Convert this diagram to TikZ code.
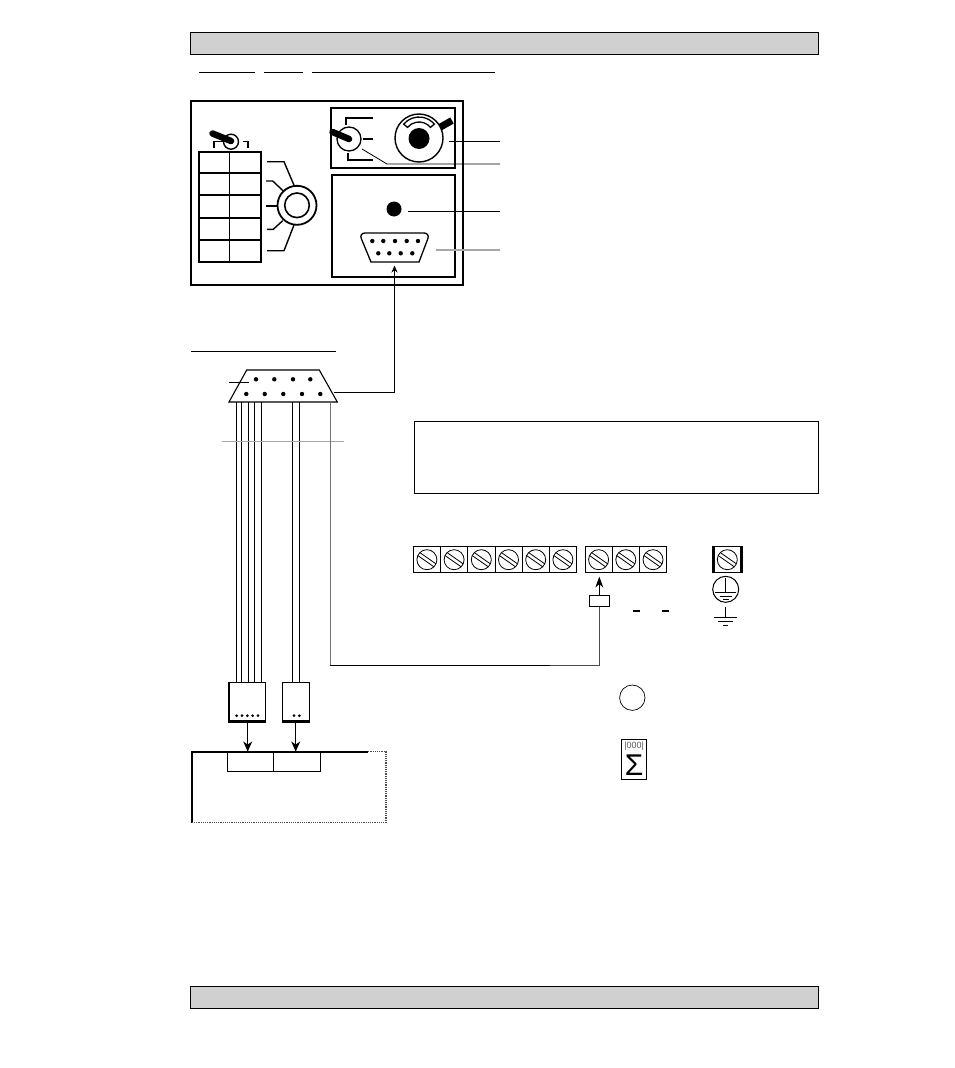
\documentclass[tikz,border=0pt]{standalone}
\usepackage{amsmath, amssymb}
\usepackage{fontspec}
\setmainfont{Liberation Sans}
\usetikzlibrary{arrows.meta}
\definecolor{barfill}{HTML}{D0D0D0}
\definecolor{leadgray}{HTML}{A8A8A8}
\tikzset{
  bar/.style={draw, fill=barfill, line width=1, minimum width=627.5pt, minimum height=22pt, inner sep=0},
  ring/.style={draw, circle, inner sep=0},
  blob/.style={circle, fill=black, inner sep=0},
  pin/.style={blob, minimum size=4.4pt},
  smallpin/.style={blob, minimum size=3pt},
  termcell/.style={draw, line width=0.8, minimum width=27.2pt, minimum height=26pt, inner sep=0},
  wire/.style={line width=1},
  panelline/.style={line width=1.8},
  keybar/.style={line width=6.5, line cap=round},
  screw/.pic={
    \draw [line width=0.8] (0,0) circle (10pt);
    \draw [line width=0.8, rotate=-35] (-9.8pt,1.8pt) -- (9.8pt,1.8pt);
    \draw [line width=0.8, rotate=-35] (-9.8pt,-1.8pt) -- (9.8pt,-1.8pt);
  }
}
\begin{document}
\begin{tikzpicture}[x=1pt, y=-1pt, >=stealth]
    \useasboundingbox (0,0) rectangle (954,1068);
    \node (topbar) [bar] at (504.7,43) {};
    \node (bottombar) [bar] at (504.7,997.5) {};
    \draw [line width=1] (199,72.3) -- (255,72.3);
    \draw [line width=1] (264,72.3) -- (303,72.3);
    \draw [line width=1] (312,72.3) -- (495,72.3);

    \node (frontpanel) [draw, panelline, minimum width=272pt, minimum height=184pt, inner sep=0] at (327,193) {};
    \node (keypanel) [draw, panelline, minimum width=124pt, minimum height=60pt, inner sep=0] at (393,138) {};
    \node (portpanel) [draw, panelline, minimum width=123pt, minimum height=102pt, inner sep=0] at (393.5,226) {};

    \draw [line width=1.6] (199,152) rectangle (261,262);
    \draw [line width=1.6] (229.5,152) -- (229.5,262);
    \foreach \y in {172.7,195,217.7,240}
      \draw [line width=1.6] (199,\y) -- (261,\y);
    \draw [line width=1.3] (214,148.3) -- (214,141.7) -- (223,141.7);
    \draw [line width=1.3] (243,141.7) -- (248,141.7) -- (248,148.3);
    \node (togglea) [ring, line width=1.4, minimum size=15pt] at (231,141.7) {};
    \draw [keybar] (212.5,133.5) -- (231,141);

    \node (selector) [ring, line width=1.8, minimum size=39pt] at (297,205.3) {};
    \node (selectorin) [ring, line width=1.6, minimum size=24.6pt] at (297,205.3) {};
    \draw [line width=1.4] (267,161.7) -- (284,161.7) -- (294.3,186);
    \draw [line width=1.4] (266,181) -- (272.7,181) -- (283.3,191);
    \draw [line width=1.4] (266,206) -- (278.3,206);
    \draw [line width=1.4] (267,229.3) -- (273.3,229.3) -- (282.7,220.7);
    \draw [line width=1.4] (267,250.7) -- (284,250.7) -- (294,225);

    \draw [line width=1.4] (346,125) -- (346,118) -- (373,118);
    \draw [line width=1.4] (348,153) -- (348,160) -- (373,160);
    \draw [line width=1.4] (363,139) -- (373,139);
    \node (keyswitch) [ring, line width=1.3, minimum size=24pt] at (349,139) {};
    \draw [keybar] (332.5,132) -- (349,139);

    \node (estop) [ring, line width=1.4, minimum size=48pt] at (419,138) {};
    \node (estopcap) [blob, minimum size=21pt] at (419,138.5) {};
    \draw [line width=1.3] ([shift={(419,137)}]140:20pt) arc (140:40:20pt) -- ([shift={(419,137)}]40:15pt) arc (40:140:15pt) -- cycle;
    \draw [line width=7] (440.5,127) -- (452,120.5);

    \node (lamp) [blob, minimum size=15pt] at (394,209) {};
    \draw [line width=1.3, rounded corners=6pt] (371,262) -- (359,233) -- (430,233) [sharp corners] -- (419,262) -- cycle;
    \foreach \x in {372.3,383.3,395,406.7,418}
      \node [pin] at (\x,241) {};
    \foreach \x in {378.3,389.3,400.7,412.3}
      \node [pin] at (\x,253.3) {};
    \coordinate (portpin) at (394.5,265.5);

    \coordinate (leada) at (449,141.5);
    \coordinate (leadaend) at (500,141.5);
    \coordinate (leadb) at (362,149);
    \coordinate (leadbknee) at (387,164);
    \coordinate (leadbend) at (500,164);
    \coordinate (leadc) at (408,211.7);
    \coordinate (leadcend) at (500,211.7);
    \coordinate (leadd) at (435.5,250);
    \coordinate (leaddend) at (500,250);
    \draw [wire] (leada) -- (leadaend);
    \draw [line width=0.8] (leadb) -- (leadbknee) -- (leadbend);
    \draw [wire] (leadc) -- (leadcend);
    \draw [color=leadgray, line width=1.6] (leadd) -- (leaddend);

    \draw [line width=1] (191,351.3) -- (335.7,351.3);
    \coordinate (plugtl) at (246.7,370);
    \coordinate (plugtr) at (319.3,370);
    \coordinate (plugbr) at (337.3,402);
    \coordinate (plugbl) at (229,402);
    \draw [line width=1.1] (plugtl) -- (plugtr) -- (plugbr) -- (plugbl) -- cycle;
    \foreach \x in {256,274.3,293,310.3}
      \node [pin] at (\x,379.3) {};
    \foreach \x in {246.3,264.7,283.3,302,320.3}
      \node [pin] at (\x,394) {};
    \draw [line width=0.8] (229.3,382.3) -- (249,382.3);
    \coordinate (plugright) at (334,392);
    \draw [->, wire, >={Stealth[length=7pt, width=6pt]}] (plugright) -| (portpin);

    \node (plugone) [draw, line width=1, minimum width=36.4pt, minimum height=38.7pt, inner sep=0] at (247.5,701.7) {};
    \node (plugtwo) [draw, line width=1, minimum width=27.4pt, minimum height=38.7pt, inner sep=0] at (296,701.7) {};
    \draw [line width=2.2] (plugone.north west) -- (plugone.south west) -- (plugone.south east);
    \draw [line width=2.2] (plugtwo.south west) -- (plugtwo.south east);
    \foreach \x in {236.7,242,247.4,252.7,258}
      \node [smallpin] at (\x,715.7) {};
    \foreach \x in {294,299.3}
      \node [smallpin] at (\x,715.7) {};
    \foreach \x in {236.3,241.7,248.3,254.3,261.3}
      \draw [line width=0.9] (\x,402) -- (\x,682.3);
    \foreach \x in {292.3,299.3}
      \draw [line width=0.9] (\x,402) -- (\x,682.3);
    \draw [color=leadgray, line width=1.2] (221.7,441.7) -- (343.7,441.7);

    \node (socketone) [draw, line width=0.9, minimum width=46pt, minimum height=19.5pt, inner sep=0] at (250.3,761.7) {};
    \node (sockettwo) [draw, line width=0.9, minimum width=47pt, minimum height=19.5pt, inner sep=0] at (296.8,761.7) {};
    \draw [line width=2] (368.3,751.7) -- (191.7,751.7) -- (191.7,822.7);
    \draw [line width=1.2, densely dotted, color=black!70] (191.7,822.3) -- (386,822.3) -- (386,751.7) -- (368.3,751.7);
    \coordinate (plugonearrow) at (247.7,721);
    \coordinate (plugtwoarrow) at (295.7,721);
    \draw [->, wire, >={Stealth[length=10pt, width=9pt, inset=3pt]}] (plugonearrow) -- (plugonearrow |- socketone.north);
    \draw [->, wire, >={Stealth[length=10pt, width=9pt, inset=3pt]}] (plugtwoarrow) -- (plugtwoarrow |- sockettwo.north);

    \node (notebox) [draw, line width=0.8, minimum width=404.5pt, minimum height=72pt, inner sep=0] at (616.4,457) {};

    \foreach \i in {1,...,6} {
      \node (terma\i) [termcell] at (413.3+27.2*\i-13.6,559.7) {};
      \pic at (terma\i) {screw};
    }
    \foreach \i in {1,2,3} {
      \node (termb\i) [termcell] at (585+27.2*\i-13.6,559.7) {};
      \pic at (termb\i) {screw};
    }
    \node (termc) [termcell] at (727.3,559.7) {};
    \pic at (termc) {screw};
    \draw [line width=3.2] (termc.north west) -- (termc.south west);
    \draw [line width=3.2] (termc.north east) -- (termc.south east);

    \node (earth) [ring, line width=1, minimum size=26pt] at (725.7,589.3) {};
    \draw [line width=0.9] (725.7,578) -- (725.7,592);
    \draw [line width=0.9] (715,592) -- (736,592);
    \draw [line width=0.9] (719.5,596) -- (732,596);
    \draw [line width=0.9] (723,599.5) -- (728.5,599.5);
    \draw [line width=1.1] (725.7,607) -- (725.7,617.7);
    \draw [line width=1.1] (714.3,617.7) -- (736.7,617.7);
    \draw [line width=1.1] (718.3,621.7) -- (733.3,621.7);
    \draw [line width=1.1] (723,625.7) -- (728.3,625.7);
    \draw [line width=1.3] (633.3,611) -- (640,611);
    \draw [line width=1.3] (662.3,611) -- (669,611);

    \node (fuse) [draw, fill=white, line width=0.9, minimum width=20pt, minimum height=10.6pt, inner sep=0] at (599.3,601) {};
    \coordinate (guardcorner) at (330,665.5);
    \coordinate (plugguard) at (330,402);
    \draw [color=black!55, wire] (plugguard) -- (guardcorner);
    \draw [wire] (guardcorner) -- (550,665.5);
    \draw [color=black!70, wire] (550,665.5) -| (fuse.south);
    \draw [->, wire, >={Stealth[length=11pt, width=8pt]}] (fuse.north) -- ([yshift=-3.5pt]termb1.south -| fuse.north);

    \node (blankdial) [ring, line width=0.7, minimum size=25.4pt] at (632.3,697.7) {};
    \node (sumbox) [draw, line width=0.9, minimum width=25pt, minimum height=40pt, inner sep=0] at (634.2,759.3) {};
    \node (sumcount) [color=black!65, font=\fontsize{9}{9}\selectfont, inner sep=0] at (634.2,746) {|000|};
    \node (sumsign) [font=\fontsize{30}{30}\selectfont, inner sep=0] at (634.2,765.5) {Σ};
\end{tikzpicture}
\end{document}
